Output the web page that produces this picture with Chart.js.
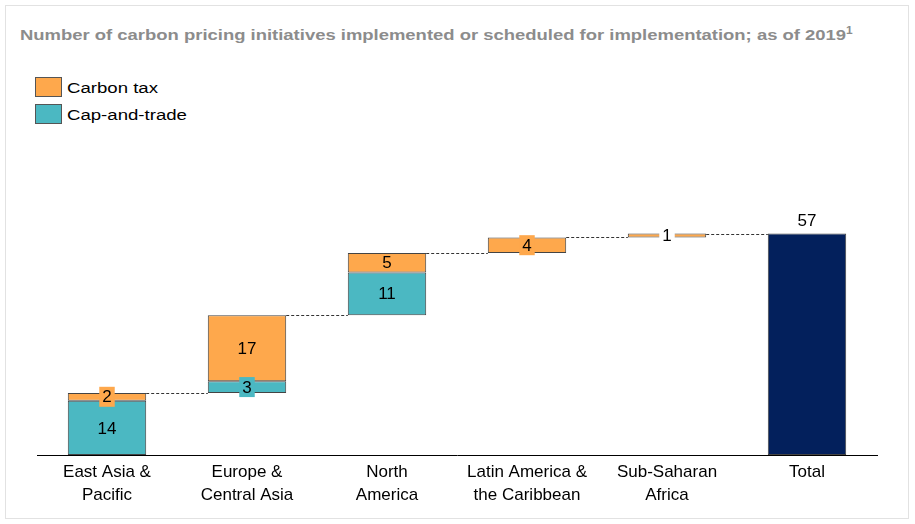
<!DOCTYPE html>
<html>
<head>
<meta charset="utf-8">
<script src="https://cdn.jsdelivr.net/npm/chart.js@4.4.1/dist/chart.umd.min.js"></script>
<style>
  html, body { margin: 0; padding: 0; background: #fff; }
  body { width: 915px; height: 524px; position: relative; overflow: hidden; font-family: "Liberation Sans", Arial, sans-serif; }
  .card { position: absolute; left: 5px; top: 5px; width: 904px; height: 514px; border: 1px solid #e2e2e2; box-sizing: border-box; }
  .title { position: absolute; left: 20px; top: 26px; font-size: 15.5px; font-weight: bold; color: #8c8c8c; white-space: nowrap; transform: scaleX(1.19); transform-origin: left top; }
  .title sup { font-size: 10px; vertical-align: 6px; line-height: 0; }
  .legend { position: absolute; left: 35px; top: 77px; font-size: 15.5px; color: #000; }
  .legend div { height: 27px; display: flex; align-items: flex-start; }
  .legend span.box { display: inline-block; width: 27px; height: 20px; border: 1px solid #555; box-sizing: border-box; margin-right: 5px; }
  .legend span.txt { line-height: 21px; display: inline-block; transform: scaleX(1.2); transform-origin: left center; }
  canvas { position: absolute; left: 0; top: 0; }
</style>
</head>
<body>
<div class="card"></div>
<div class="title">Number of carbon pricing initiatives implemented or scheduled for implementation; as of 2019<sup>1</sup></div>
<div class="legend">
  <div><span class="box" style="background:#FEA84C"></span><span class="txt">Carbon tax</span></div>
  <div><span class="box" style="background:#4BB8C2"></span><span class="txt">Cap-and-trade</span></div>
</div>
<canvas id="chart" width="915" height="524"></canvas>
<script>
/* ===============================
   DATA
================================ */
const categories = [
  ["East Asia &", "Pacific"],
  ["Europe &", "Central Asia"],
  ["North", "America"],
  ["Latin America &", "the Caribbean"],
  ["Sub-Saharan", "Africa"],
  "Total"
];
const capAndTrade = [14, 3, 11, null, null, null];
const carbonTax = [2, 17, 5, 4, 1, null];
const totals = [null, null, null, null, null, 57];

const TAX_COLOR = "#FEA84C";
const CAP_COLOR = "#4BB8C2";
const TOTAL_COLOR = "#03205C";
const FONT = "'Liberation Sans', Arial, sans-serif";

/* ===============================
   FLOATING RANGES (WATERFALL)
================================ */
const capRanges = [];
const taxRanges = [];
const levels = [];
let running = 0;
categories.forEach((_, i) => {
  if (totals[i] != null) {
    capRanges.push(null);
    taxRanges.push(null);
    levels.push(totals[i]);
    return;
  }
  if (capAndTrade[i] != null) {
    capRanges.push([running, running + capAndTrade[i]]);
    running += capAndTrade[i];
  } else capRanges.push(null);
  if (carbonTax[i] != null) {
    taxRanges.push([running, running + carbonTax[i]]);
    running += carbonTax[i];
  } else taxRanges.push(null);
  levels.push(running);
});
const totalRanges = totals.map(v => (v == null ? null : [0, v]));
const rawValues = [capAndTrade, carbonTax, totals];

/* ===============================
   PLUGINS
================================ */
const connectors = {
  id: "connectors",
  beforeDatasetsDraw(chart) {
    const { ctx, scales } = chart;
    const barAt = i => {
      for (let d = 0; d < chart.data.datasets.length; d++) {
        const el = chart.getDatasetMeta(d).data[i];
        if (chart.data.datasets[d].data[i] && el) return el;
      }
    };
    ctx.save();
    ctx.strokeStyle = "#333";
    ctx.lineWidth = 1;
    ctx.setLineDash([3, 2]);
    for (let i = 0; i < categories.length - 1; i++) {
      const a = barAt(i), b = barAt(i + 1);
      const y = Math.round(scales.y.getPixelForValue(levels[i])) + 0.5;
      ctx.beginPath();
      ctx.moveTo(a.x + a.width / 2, y);
      ctx.lineTo(b.x - b.width / 2, y);
      ctx.stroke();
    }
    ctx.restore();
  }
};

const valueLabels = {
  id: "valueLabels",
  afterDatasetsDraw(chart) {
    const { ctx } = chart;
    ctx.save();
    ctx.font = "17px " + FONT;
    ctx.textAlign = "center";
    ctx.textBaseline = "middle";
    chart.data.datasets.forEach((ds, d) => {
      chart.getDatasetMeta(d).data.forEach((el, i) => {
        const v = rawValues[d][i];
        if (v == null) return;
        const txt = String(v);
        if (d === 2) {
          ctx.fillStyle = "#000";
          ctx.fillText(txt, el.x, el.y - 12);
          return;
        }
        const top = Math.min(el.y, el.base);
        const h = Math.abs(el.base - el.y);
        const cy = top + h / 2;
        if (h < 18) {
          const w = ctx.measureText(txt).width + 6;
          ctx.fillStyle = h < 6 ? "#fff" : ds.backgroundColor;
          ctx.fillRect(el.x - w / 2, cy - 10, w, 20);
        }
        ctx.fillStyle = "#000";
        ctx.fillText(txt, el.x, cy + 1);
      });
    });
    ctx.restore();
  }
};

/* ===============================
   CHART
================================ */
const barStyle = { borderColor: "#444", borderWidth: 1, borderSkipped: false, barPercentage: 0.56, categoryPercentage: 1 };

new Chart(document.getElementById("chart"), {
  type: "bar",
  data: {
    labels: categories,
    datasets: [
      { label: "Cap-and-trade", data: capRanges, backgroundColor: CAP_COLOR, ...barStyle },
      { label: "Carbon tax", data: taxRanges, backgroundColor: TAX_COLOR, ...barStyle },
      { label: "Total", data: totalRanges, backgroundColor: TOTAL_COLOR, ...barStyle }
    ]
  },
  options: {
    responsive: false,
    animation: false,
    layout: { padding: { left: 37, right: 38, top: 183, bottom: 11 } },
    plugins: { legend: { display: false }, tooltip: { enabled: false } },
    scales: {
      x: {
        stacked: true,
        grid: { display: false, drawTicks: false },
        border: { display: true, color: "#000", width: 1 },
        ticks: { color: "#000", font: { size: 17, family: FONT, lineHeight: 1.35 }, padding: 6, maxRotation: 0 }
      },
      y: {
        display: false,
        min: 0,
        max: 70
      }
    }
  },
  plugins: [connectors, valueLabels]
});
</script>
</body>
</html>
